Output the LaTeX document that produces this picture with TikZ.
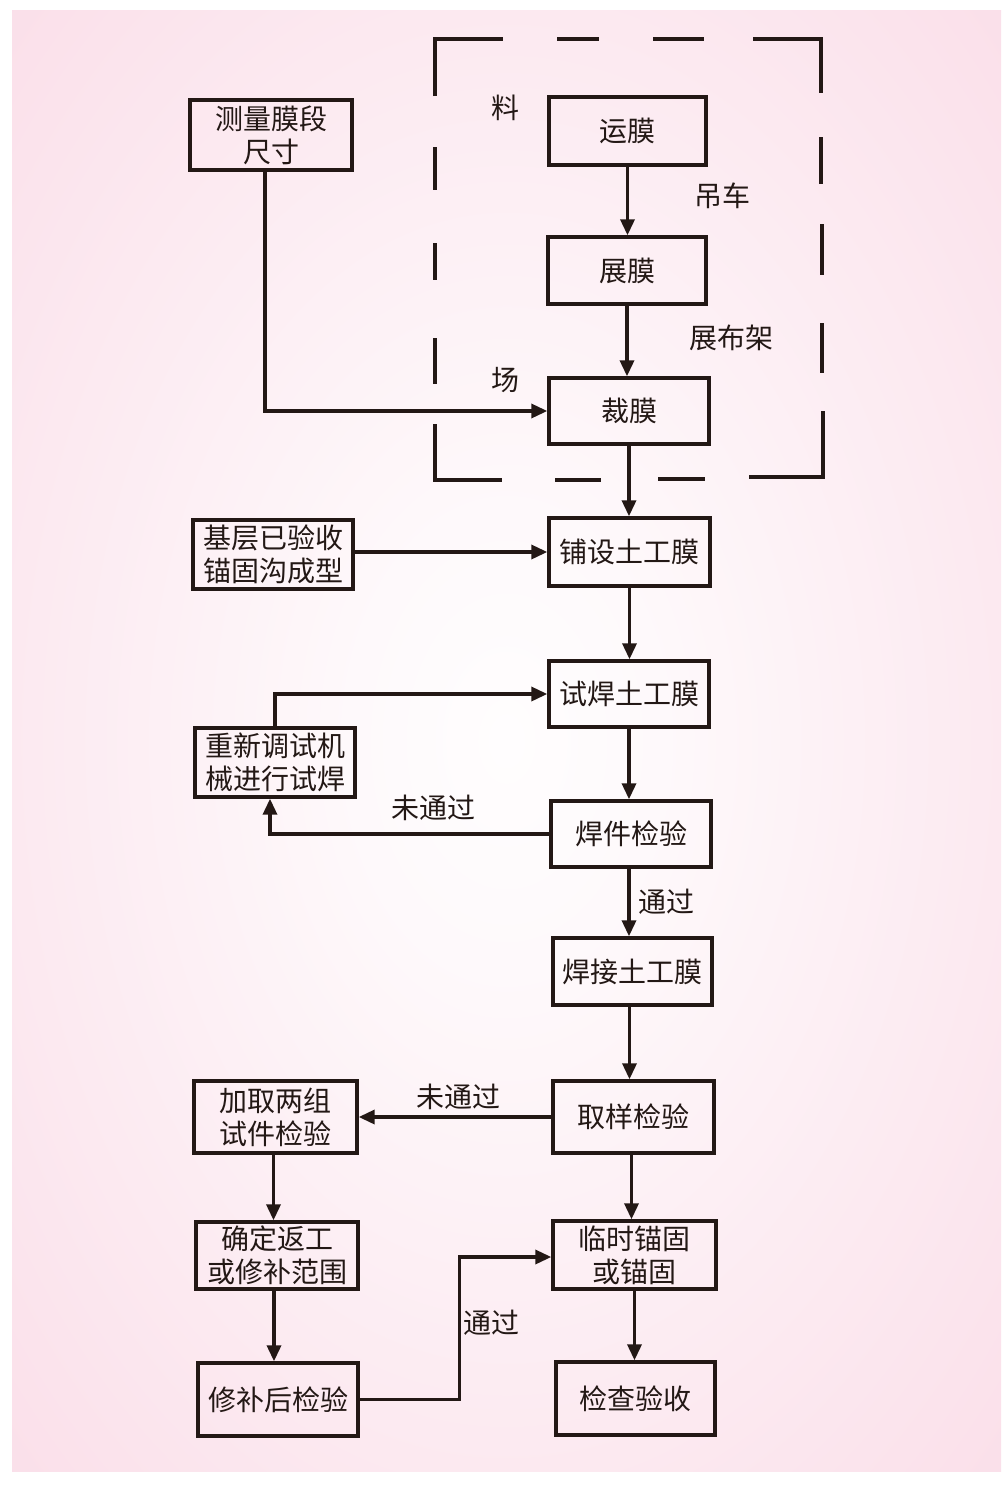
\documentclass[tikz,border=0pt]{standalone}
\usepackage{fontspec}
\newfontfamily\cjk{Noto Sans CJK SC}
\usetikzlibrary{arrows.meta}
\definecolor{pinkbg}{HTML}{FADDE8}
\definecolor{ink}{HTML}{231815}
\pgfdeclareradialshading{bgshade}{\pgfpoint{0bp}{0bp}}{color(0bp)=(pinkbg!5!white); color(8bp)=(pinkbg!18!white); color(38bp)=(pinkbg); color(50bp)=(pinkbg)}
\tikzset{
  box/.style={draw=ink, line width=3.4pt, text=ink, align=center, inner sep=0pt,
    font=\cjk\fontsize{28}{33}\selectfont},
  lbl/.style={text=ink, inner sep=0pt, font=\cjk\fontsize{28}{33}\selectfont},
  arr/.style={draw=ink, line width=3.4pt, -{Triangle[length=16pt,width=14pt]}},
  dashbox/.style={draw=ink, line width=3.4pt, line cap=butt},
}
\begin{document}
\begin{tikzpicture}[x=1pt,y=-1pt]
\useasboundingbox (0,0) rectangle (1007,1496);
\fill[white] (0,0) rectangle (1007,1496);
\shade[shading=bgshade] (12,11) rectangle (1001,1471);

% dashed site frame
\draw[dashbox]
  (435,96) -- (435,39) -- (503,39)
  (557,39) -- (599,39)  (653,39) -- (704,39)
  (753,39) -- (821,39) -- (821,93)
  (435,147) -- (435,190)  (435,243) -- (435,280)  (435,338) -- (435,384)
  (821,137) -- (821,184)  (822,224) -- (822,275)  (822,323) -- (822,373)
  (435,424) -- (435,480) -- (502,480)
  (555,480) -- (601,480)  (658,479) -- (705,479)
  (749,477) -- (823,477) -- (823,411);

% nodes
\node[box, minimum width=162pt, minimum height=70pt] (m)   at (271,135)   {\raisebox{-2pt}{测量膜段}\\\raisebox{-2pt}{尺寸}};
\node[box, minimum width=157pt, minimum height=68pt] (yun) at (627.5,131) {运膜};
\node[box, minimum width=158pt, minimum height=67pt] (zhan) at (627,270.5) {展膜};
\node[box, minimum width=160pt, minimum height=66pt] (cai) at (629,411)   {裁膜};
\node[box, minimum width=161pt, minimum height=68pt] (pu)  at (629.5,552) {铺设土工膜};
\node[box, minimum width=160pt, minimum height=69pt] (ji)  at (273,554.5) {基层已验收\\锚固沟成型};
\node[box, minimum width=160pt, minimum height=66pt] (shi) at (629,694)   {试焊土工膜};
\node[box, minimum width=160pt, minimum height=69pt] (chong) at (275,762.5) {重新调试机\\械进行试焊};
\node[box, minimum width=160pt, minimum height=66pt] (hj)  at (631,834)   {焊件检验};
\node[box, minimum width=159pt, minimum height=67pt] (hjt) at (632.5,971.5) {焊接土工膜};
\node[box, minimum width=161pt, minimum height=72pt] (qy)  at (633.5,1117) {取样检验};
\node[box, minimum width=163pt, minimum height=72pt] (jq)  at (275.5,1117) {加取两组\\试件检验};
\node[box, minimum width=162pt, minimum height=67pt] (qd)  at (277,1255.5) {确定返工\\或修补范围};
\node[box, minimum width=163pt, minimum height=68pt] (ls)  at (634.5,1255) {临时锚固\\或锚固};
\node[box, minimum width=160pt, minimum height=73pt] (xb)  at (278,1399.5) {修补后检验};
\node[box, minimum width=159pt, minimum height=73pt] (jc)  at (635.5,1398.5) {检查验收};

% labels
\node[lbl] (l1) at (505,108) {料};
\node[lbl] (l2) at (505,380) {场};
\node[lbl] (l3) at (722,196) {吊车};
\node[lbl] (l4) at (731,338) {展布架};
\node[lbl] (l5) at (433,808) {未通过};
\node[lbl] (l6) at (666,902) {通过};
\node[lbl] (l7) at (458,1097) {未通过};
\node[lbl] (l8) at (491,1323) {通过};

% connectors
\draw[arr] (yun.south) -- (yun.south |- zhan.north);
\draw[arr] (zhan.south) -- (zhan.south |- cai.north);
\draw[arr] (cai.south) -- (cai.south |- pu.north);
\draw[arr] ([xshift=-6pt]m.south) |- (cai.west);
\draw[arr] ([yshift=2.5pt]ji.east) -- (ji.east |- pu.west) -- (pu.west);
\draw[arr] (pu.south) -- (pu.south |- shi.north);
\draw[arr] (chong.north) |- (shi.west);
\draw[arr] (shi.south) -- (shi.south |- hj.north);
\draw[arr] (hj.west) -| ([xshift=-5pt]chong.south);
\draw[arr] ([xshift=-2pt]hj.south) -- ([xshift=-2pt]hj.south |- hjt.north);
\draw[arr] ([xshift=-3pt]hjt.south) -- ([xshift=-3pt]hjt.south |- qy.north);
\draw[arr] (qy.west) -- (jq.east);
\draw[arr] ([xshift=-2pt]qy.south) -- ([xshift=-2pt]qy.south |- ls.north);
\draw[arr] ([xshift=-2pt]jq.south) -- ([xshift=-2pt]jq.south |- qd.north);
\draw[arr] ([xshift=-3pt]qd.south) -- ([xshift=-3pt]qd.south |- xb.north);
\draw[arr] (xb.east) -- ++(100,0) coordinate (xbr) |- ([yshift=-2pt]ls.west);
\draw[arr] (ls.south) -- (ls.south |- jc.north);
\end{tikzpicture}
\end{document}
